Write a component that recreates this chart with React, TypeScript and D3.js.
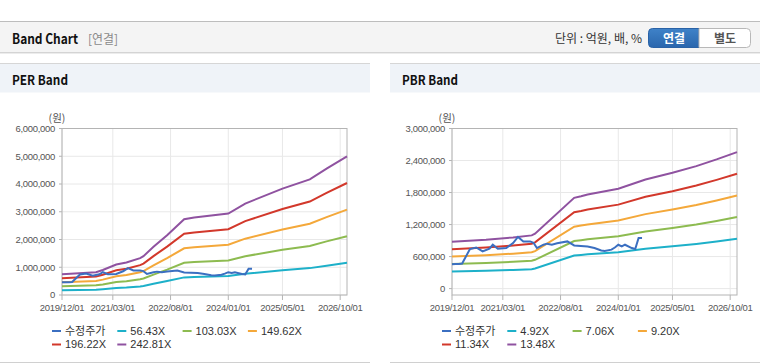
import React from 'react';
import * as d3 from 'd3';

// ---------- data ----------
const xDomain = ['2019-12-01', '2026-12-01'];
const xTickLabels = ['2019/12/01', '2021/03/01', '2022/08/01', '2024/01/01', '2025/05/01', '2026/10/01'];

const priceDates = [
  '2019-12-01', '2020-01-01', '2020-02-01', '2020-03-01', '2020-05-10', '2020-07-05', '2020-09-01',
  '2020-11-01', '2020-12-01', '2021-01-15', '2021-04-01', '2021-06-01', '2021-07-15', '2021-09-01',
  '2021-11-01', '2021-12-01', '2022-01-01', '2022-03-01', '2022-04-01', '2022-05-15', '2022-07-01',
  '2022-10-01', '2022-12-01', '2023-04-01', '2023-06-01', '2023-08-01', '2023-09-01', '2023-11-01',
  '2023-12-01', '2024-01-01', '2024-02-01', '2024-03-01', '2024-05-01', '2024-06-01', '2024-07-01',
  '2024-08-01',
];
const priceValues = [
  455000, 460000, 462000, 470000, 741000, 771000, 696000,
  748000, 822000, 747000, 760000, 854000, 967000, 884000,
  884000, 860000, 760000, 822000, 842000, 822000, 850000,
  884000, 808000, 790000, 760000, 715000, 705000, 730000,
  770000, 822000, 790000, 822000, 760000, 741000, 948000,
  948000,
];

// PER band: EPS base (won) by date
const perDates = [
  '2019-12-01', '2020-10-01', '2020-12-01', '2021-04-01', '2021-07-01', '2021-11-01', '2021-12-01',
  '2022-03-01', '2022-07-01', '2022-12-01', '2023-03-01', '2024-01-01', '2024-06-01', '2025-05-01',
  '2026-01-01', '2026-06-01', '2026-12-01',
];
const perEps = [
  3064, 3377, 3707, 4530, 4819, 5478, 5766,
  7145, 8880, 11243, 11499, 12088, 13570, 15790,
  17166, 18747, 20567,
];
const perMultiples = [56.43, 103.03, 149.62, 196.22, 242.81];
const perYTicks = [0, 1000000, 2000000, 3000000, 4000000, 5000000, 6000000];

// PBR band: BPS base (won) by date
const pbrDates = [
  '2019-12-01', '2020-10-01', '2021-06-01', '2021-11-15', '2021-12-15', '2022-12-01', '2023-02-01',
  '2023-04-01', '2024-01-01', '2024-09-01', '2025-05-01', '2025-12-01', '2026-06-01', '2026-12-01',
];
const pbrBps = [
  65134, 67953, 71142, 73961, 76335, 126113, 128338,
  130712, 138724, 151706, 160979, 170252, 179599, 189763,
];
const pbrMultiples = [4.92, 7.06, 9.2, 11.34, 13.48];
const pbrYTicks = [0, 600000, 1200000, 1800000, 2400000, 3000000];

const priceLabel = '수정주가';
const priceColor = '#3b6fc1';
const bandColors = ['#1db0c9', '#8dbb50', '#f4a83a', '#d2382b', '#8f52a0'];

// ---------- components ----------
const latin = "'Liberation Sans', Arial, 'Noto Sans CJK KR', sans-serif";
const kr = "'Noto Sans CJK KR', 'Noto Sans', sans-serif";
const parse = (s: string) => new Date(s + 'T00:00:00Z');

type PanelProps = {
  ox: number;
  title: string;
  yDomain: [number, number];
  yTicks: number[];
  baseDates: string[];
  baseValues: number[];
  multiples: number[];
  multipleFmt: (m: number) => string;
};

function Panel({ ox, title, yDomain, yTicks, baseDates, baseValues, multiples, multipleFmt }: PanelProps) {
  const left = ox + 62;
  const right = ox + 347;
  const top = 128.5;
  const bottom = 295;
  const x = d3.scaleUtc().domain([parse(xDomain[0]), parse(xDomain[1])]).range([left, right]);
  const y = d3.scaleLinear().domain(yDomain).range([bottom, top]);
  const line = d3
    .line<[Date, number]>()
    .x((d) => x(d[0]))
    .y((d) => y(d[1]));
  const tickDates = xTickLabels.map((t) => parse(t.replace(/\//g, '-')));
  const fmt = d3.format(',');
  const bands = multiples.map((m) => baseDates.map((d, i) => [parse(d), baseValues[i] * m] as [Date, number]));
  const price = priceDates.map((d, i) => [parse(d), priceValues[i]] as [Date, number]);

  const legendItems = [
    { label: priceLabel, color: priceColor },
    ...multiples.map((m, i) => ({ label: multipleFmt(m), color: bandColors[i] })),
  ];

  return (
    <g>
      {/* panel header */}
      <rect x={ox} y={64} width={370} height={28.5} fill="#eff3f8" />
      <line x1={ox} x2={ox + 370} y1={63.5} y2={63.5} stroke="#d6d6d6" />
      <text
        x={ox + 12}
        y={84.5}
        fontFamily={kr}
        fontWeight={700}
        fontSize={13.5}
        textLength={56}
        lengthAdjust="spacingAndGlyphs"
        fill="#111"
      >
        {title}
      </text>
      <line x1={ox} x2={ox + 370} y1={362.5} y2={362.5} stroke="#d0d0d0" />

      {/* grid */}
      {yTicks.map((t) => (
        <line key={'gy' + t} x1={left} x2={right} y1={y(t)} y2={y(t)} stroke="#e8e8e8" />
      ))}
      {tickDates.map((d, i) => (
        <line key={'gx' + i} x1={x(d)} x2={x(d)} y1={top} y2={bottom} stroke="#e8e8e8" />
      ))}
      {/* frame */}
      <rect x={left} y={top} width={right - left} height={bottom - top} fill="none" stroke="#b4b4b4" />

      {/* y axis */}
      {yTicks.map((t) => (
        <g key={'ty' + t}>
          <line x1={left - 3} x2={left} y1={y(t)} y2={y(t)} stroke="#b4b4b4" />
          <text
            x={left - 7}
            y={y(t)}
            dy="0.35em"
            textAnchor="end"
            fontFamily={latin}
            fontSize={9.5}
            letterSpacing={-0.3}
            fill="#555"
          >
            {fmt(t)}
          </text>
        </g>
      ))}
      <text x={left - 5} y={121.5} textAnchor="middle" fontFamily={kr} fontSize={10.5} fill="#555">
        (원)
      </text>

      {/* x axis */}
      {tickDates.map((d, i) => (
        <g key={'tx' + i}>
          <line x1={x(d)} x2={x(d)} y1={bottom} y2={bottom + 5} stroke="#b4b4b4" />
          <text
            x={x(d)}
            y={310.5}
            textAnchor="middle"
            fontFamily={latin}
            fontSize={9.5}
            letterSpacing={-0.3}
            fill="#555"
          >
            {xTickLabels[i]}
          </text>
        </g>
      ))}

      {/* bands */}
      {bands.map((b, i) => (
        <path key={'b' + i} d={line(b) || ''} fill="none" stroke={bandColors[i]} strokeWidth={2} />
      ))}
      <path d={line(price) || ''} fill="none" stroke={priceColor} strokeWidth={2} />

      {/* legend */}
      {legendItems.map((it, i) => {
        const col = i % 4;
        const row = Math.floor(i / 4);
        const lx = ox + 52 + col * 65.3;
        const ly = 331 + row * 13.5;
        return (
          <g key={'lg' + i}>
            <line x1={lx} x2={lx + 9} y1={ly} y2={ly} stroke={it.color} strokeWidth={2} />
            <text x={lx + 13} y={ly} dy="0.36em" fontFamily={latin} fontSize={11} fill="#333">
              {it.label}
            </text>
          </g>
        );
      })}
    </g>
  );
}

export default function App() {
  return (
    <svg
      width={760}
      height={364}
      style={{ position: 'absolute', left: 0, top: 0, display: 'block', background: '#fff' }}
    >
      {/* top bar */}
      <rect x={0} y={21.5} width={760} height={31} fill="#f4f4f4" />
      <line x1={0} x2={760} y1={21.5} y2={21.5} stroke="#bdbdbd" />
      <line x1={0} x2={760} y1={52.5} y2={52.5} stroke="#d4d4d4" />
      <line x1={0} x2={760} y1={53.5} y2={53.5} stroke="#ececec" />
      <text
        x={12}
        y={43.5}
        fontFamily={kr}
        fontWeight={700}
        fontSize={14}
        textLength={66}
        lengthAdjust="spacingAndGlyphs"
        fill="#111"
      >
        Band Chart
      </text>
      <text x={88} y={43.5} fontFamily={kr} fontSize={12.5} fill="#8a8a8a" textLength={30} lengthAdjust="spacingAndGlyphs">
        [연결]
      </text>
      <text x={642} y={43} textAnchor="end" fontFamily={kr} fontSize={12} fill="#333">
        단위 : 억원, 배, %
      </text>
      <defs>
        <linearGradient id="btnBlue" x1="0" x2="0" y1="0" y2="1">
          <stop offset="0" stopColor="#3f82c8" />
          <stop offset="1" stopColor="#2a66ad" />
        </linearGradient>
      </defs>
      <path d="M699,28.5 L652.5,28.5 Q648.5,28.5 648.5,32.5 L648.5,43.5 Q648.5,47.5 652.5,47.5 L699,47.5 Z" fill="url(#btnBlue)" stroke="#2a62a6" />
      <path d="M699,28.5 L746.5,28.5 Q750.5,28.5 750.5,32.5 L750.5,43.5 Q750.5,47.5 746.5,47.5 L699,47.5 Z" fill="#fff" stroke="#b8b8b8" />
      <text x={674} y={42.5} textAnchor="middle" fontFamily={kr} fontWeight={700} fontSize={12} fill="#fff">
        연결
      </text>
      <text x={725} y={42.5} textAnchor="middle" fontFamily={kr} fontWeight={700} fontSize={12} fill="#555">
        별도
      </text>

      <Panel
        ox={0}
        title="PER Band"
        yDomain={[0, 6000000]}
        yTicks={perYTicks}
        baseDates={perDates}
        baseValues={perEps}
        multiples={perMultiples}
        multipleFmt={(m) => m.toFixed(2) + 'X'}
      />
      <Panel
        ox={390}
        title="PBR Band"
        yDomain={[-120000, 3000000]}
        yTicks={pbrYTicks}
        baseDates={pbrDates}
        baseValues={pbrBps}
        multiples={pbrMultiples}
        multipleFmt={(m) => m.toFixed(2) + 'X'}
      />
    </svg>
  );
}
